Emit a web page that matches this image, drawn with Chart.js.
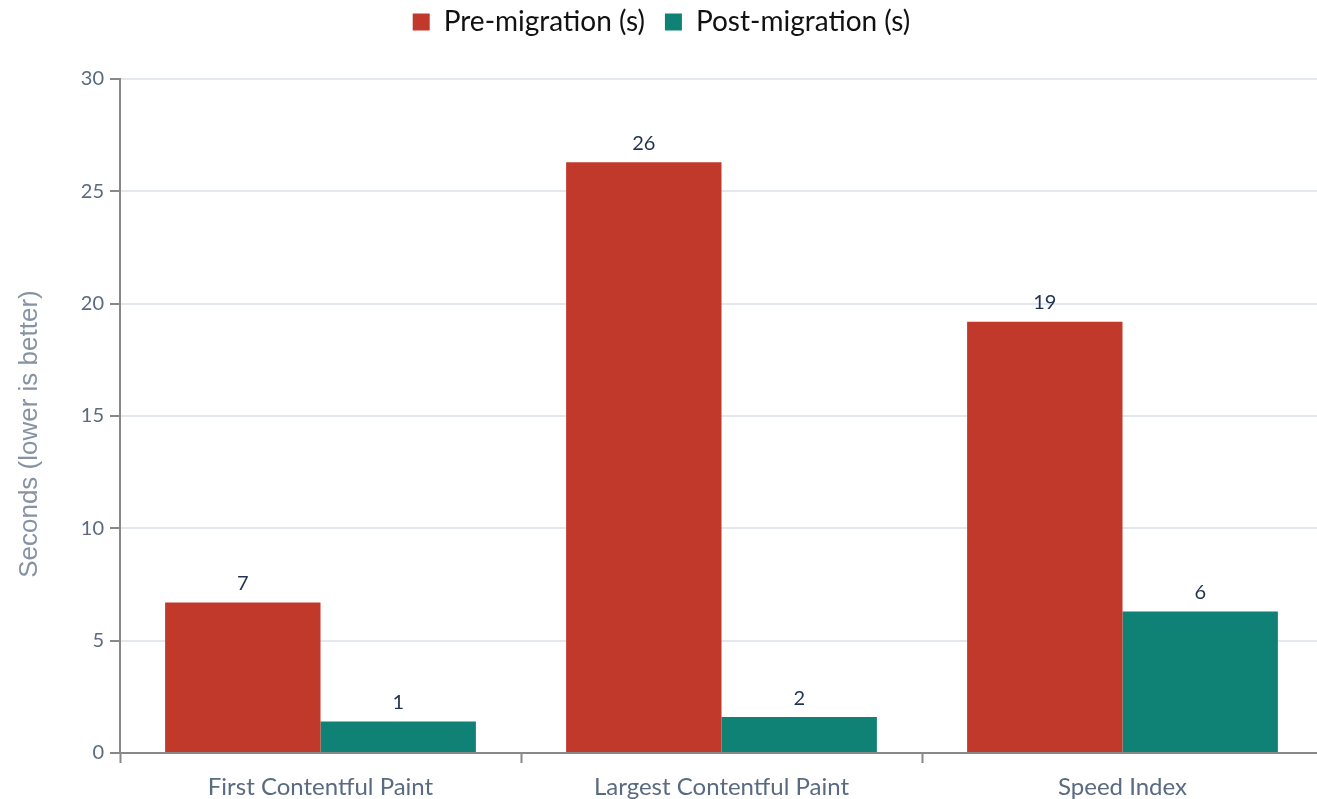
<!DOCTYPE html>
<html>
<head>
<meta charset="utf-8">
<script src="https://cdn.jsdelivr.net/npm/chart.js@4"></script>
<style>
html,body{margin:0;padding:0;background:#fff;overflow:hidden;}
#wrap{width:1323px;height:799px;position:relative;}
</style>
</head>
<body>
<div id="wrap"><canvas id="c"></canvas></div>
<script>
const categories = ["First Contentful Paint", "Largest Contentful Paint", "Speed Index"];
const preMigration = [6.7, 26.3, 19.2];
const postMigration = [1.4, 1.6, 6.3];
const seriesNames = ["Pre-migration (s)", "Post-migration (s)"];
const yTicks = [0, 5, 10, 15, 20, 25, 30];

const labelPlugin = {
  id: 'valueLabels',
  afterDatasetsDraw(chart) {
    const ctx = chart.ctx;
    ctx.save();
    ctx.font = '20px Lato';
    ctx.fillStyle = '#1f3350';
    ctx.textAlign = 'center';
    ctx.textBaseline = 'bottom';
    chart.data.datasets.forEach((ds, i) => {
      const meta = chart.getDatasetMeta(i);
      meta.data.forEach((bar, j) => {
        ctx.fillText(String(Math.round(ds.data[j])), bar.x, bar.y - 9);
      });
    });
    ctx.restore();
  }
};

const legendGap = {
  id: 'legendGap',
  beforeInit(chart) {
    const orig = chart.legend.fit;
    chart.legend.fit = function () { orig.call(this); this.height += 33; };
  }
};

new Chart(document.getElementById('c'), {
  type: 'bar',
  data: {
    labels: categories,
    datasets: [
      { label: seriesNames[0], data: preMigration, backgroundColor: '#c0392b' },
      { label: seriesNames[1], data: postMigration, backgroundColor: '#108275' }
    ]
  },
  options: {
    responsive: true,
    maintainAspectRatio: false,
    animation: false,
    layout: { padding: { top: -12, right: 0, bottom: 0, left: 0 } },
    categoryPercentage: 0.775,
    barPercentage: 1.0,
    plugins: {
      legend: {
        position: 'top',
        labels: {
          font: { family: 'Lato', size: 28 },
          color: '#111',
          boxWidth: 17,
          boxHeight: 17,
          padding: 20
        }
      },
      tooltip: { enabled: false }
    },
    scales: {
      x: {
        grid: { display: true, drawOnChartArea: false, color: '#888', tickLength: 10, tickWidth: 2, offset: true },
        border: { color: '#888', width: 2 },
        ticks: { font: { family: 'Lato', size: 24 }, color: '#5a6a80', padding: 10 },
        afterFit(scale) { scale.height = 46; }
      },
      y: {
        min: 0, max: 30,
        afterBuildTicks(scale) { scale.ticks = yTicks.map(v => ({ value: v })); },
        grid: { color: '#e3e8f0', lineWidth: 2, tickColor: '#888', tickLength: 10, tickWidth: 2 },
        border: { color: '#888', width: 2 },
        ticks: { font: { family: 'Lato', size: 20 }, color: '#5a6a80', padding: 6 },
        title: { display: true, text: 'Seconds (lower is better)     ', font: { family: 'Liberation Sans', size: 26 }, color: '#8793a3', padding: 14 },
        afterFit(scale) { scale.width = 120; }
      }
    }
  },
  plugins: [labelPlugin, legendGap]
});
</script>
</body>
</html>
